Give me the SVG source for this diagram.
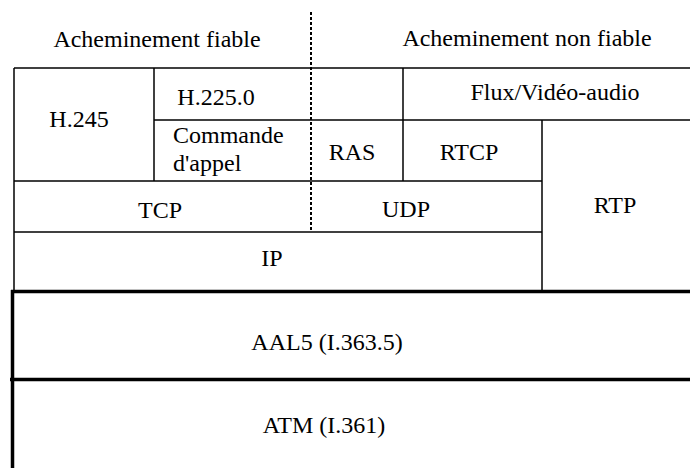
<svg xmlns="http://www.w3.org/2000/svg" width="690" height="468" viewBox="0 0 690 468">
<style>
text{font-family:"Liberation Serif",Tinos,"Times New Roman","DejaVu Serif",serif;font-size:24px;fill:#000;text-anchor:middle}
.l{text-anchor:start}
.thin{stroke:#000;stroke-width:1.5;fill:none}
.thick{stroke:#000;stroke-width:3.5;fill:none}
.dash{stroke:#000;stroke-width:2;stroke-dasharray:3 2;fill:none}
</style>
<rect width="690" height="468" fill="#fff"/>
<g id="connectors">
<line class="dash" x1="311" y1="12" x2="311" y2="232"/>
<line class="thin" x1="14" y1="68" x2="690" y2="68"/>
<line class="thin" x1="14" y1="68" x2="14" y2="291"/>
<line class="thin" x1="154" y1="68" x2="154" y2="181"/>
<line class="thin" x1="154" y1="120" x2="690" y2="120"/>
<line class="thin" x1="403" y1="68" x2="403" y2="181"/>
<line class="thin" x1="14" y1="181" x2="542" y2="181"/>
<line class="thin" x1="14" y1="232" x2="542" y2="232"/>
<line class="thin" x1="542" y1="120" x2="542" y2="291"/>
<line class="thick" x1="11" y1="291.5" x2="690" y2="291.5"/>
<line class="thick" x1="10" y1="379.5" x2="690" y2="379.5"/>
<line class="thick" x1="12.5" y1="290" x2="12.5" y2="468"/>
</g>
<g id="hdr-fiable"><text x="157" y="47">Acheminement fiable</text></g>
<g id="hdr-nonfiable"><text x="527" y="46">Acheminement non fiable</text></g>
<g id="h245"><text x="79" y="127">H.245</text></g>
<g id="h2250"><text x="216" y="105">H.225.0</text></g>
<g id="commande"><text class="l" x="173" y="143">Commande</text><text class="l" x="173" y="171">d'appel</text></g>
<g id="flux"><text x="555" y="100">Flux/Vidéo-audio</text></g>
<g id="ras"><text x="352" y="160">RAS</text></g>
<g id="rtcp"><text x="469" y="160">RTCP</text></g>
<g id="rtp"><text x="615" y="213">RTP</text></g>
<g id="tcp"><text x="160" y="218">TCP</text></g>
<g id="udp"><text x="406" y="217">UDP</text></g>
<g id="ip"><text x="272" y="266">IP</text></g>
<g id="aal5"><text x="327" y="350">AAL5 (I.363.5)</text></g>
<g id="atm"><text x="324" y="433">ATM (I.361)</text></g>
</svg>
